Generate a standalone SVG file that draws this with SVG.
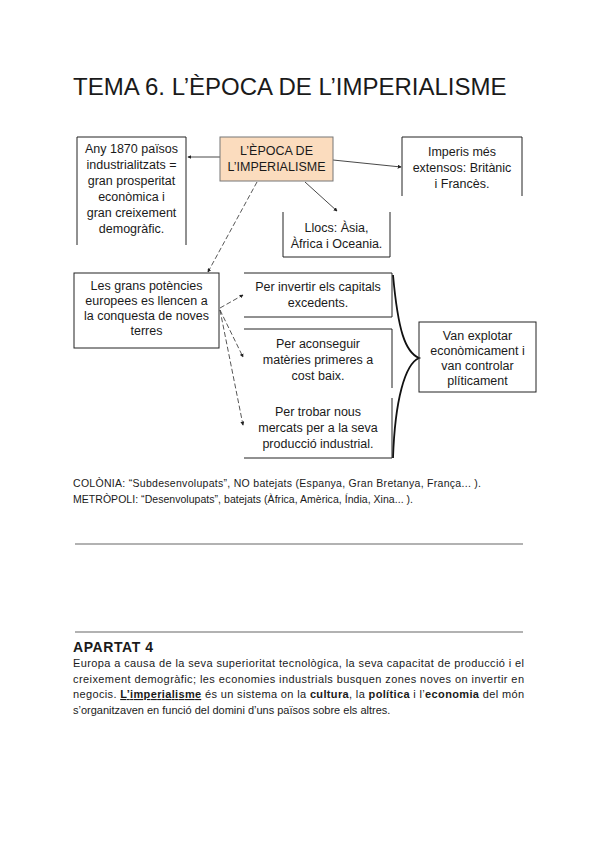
<svg xmlns="http://www.w3.org/2000/svg" width="600" height="848" viewBox="0 0 600 848">
<style>
text{font-family:"Liberation Sans",Arial,sans-serif;fill:#1a1a1a}
.t{font-size:12.5px;text-anchor:middle}
.box{fill:none;stroke:#222;stroke-width:1}
.ln{fill:none;stroke:#333;stroke-width:0.9}
.ds{fill:none;stroke:#444;stroke-width:0.9;stroke-dasharray:5 2.5}
.hr{stroke:#999;stroke-width:1.5}
.p{font-size:11px}
.b{font-weight:bold}
</style>
<defs>
<marker id="ah" viewBox="0 0 6 6" refX="5" refY="3" markerWidth="4" markerHeight="4" orient="auto" markerUnits="userSpaceOnUse">
<path d="M0,0 L6,3 L0,6 z" fill="#222"/>
</marker>
</defs>
<rect width="600" height="848" fill="#fff"/>
<text x="73" y="95" style="font-size:24px">TEMA 6. L’ÈPOCA DE L’IMPERIALISME</text>

<g id="connectors">
<line class="ln" x1="220" y1="157" x2="188" y2="157" marker-end="url(#ah)"/>
<line class="ln" x1="333" y1="160" x2="401" y2="167" marker-end="url(#ah)"/>
<line class="ln" x1="305" y1="182" x2="337" y2="211" marker-end="url(#ah)"/>
<line class="ds" x1="257" y1="182" x2="208" y2="272" marker-end="url(#ah)"/>
<line class="ds" x1="220" y1="308" x2="243" y2="295" marker-end="url(#ah)"/>
<line class="ds" x1="220" y1="310" x2="243" y2="357" marker-end="url(#ah)"/>
<line class="ds" x1="220" y1="310" x2="243" y2="425" marker-end="url(#ah)"/>
<path d="M393,275 C398,330 405,352 419,358 C405,364 395,400 393,458" fill="none" stroke="#111" stroke-width="1.8"/>
</g>

<g id="any1870">
<path class="box" d="M77,245 V137 H186 V245"/>
<text class="t" x="131.5" y="153">Any 1870 països</text>
<text class="t" x="131.5" y="169">industrialitzats =</text>
<text class="t" x="131.5" y="185">gran prosperitat</text>
<text class="t" x="131.5" y="201">econòmica i</text>
<text class="t" x="131.5" y="217">gran creixement</text>
<text class="t" x="131.5" y="233">demogràfic.</text>
</g>

<g id="epoca">
<rect x="220" y="137" width="113" height="44" fill="#FBDCBE" stroke="#777" stroke-width="1"/>
<text class="t" x="276.5" y="155">L’ÈPOCA DE</text>
<text class="t" x="276.5" y="171">L’IMPERIALISME</text>
</g>

<g id="imperis">
<path class="box" d="M402,196 V137 H522 V196"/>
<text class="t" x="462" y="156">Imperis més</text>
<text class="t" x="462" y="172">extensos: Britànic</text>
<text class="t" x="462" y="188">i Francès.</text>
</g>

<g id="llocs">
<path class="box" d="M283,212 V257 H390 V212"/>
<text class="t" x="336.5" y="232">Llocs: Àsia,</text>
<text class="t" x="336.5" y="248">Àfrica i Oceania.</text>
</g>

<g id="potencies">
<rect class="box" x="74" y="273" width="145" height="75"/>
<text class="t" x="146.5" y="290">Les grans potències</text>
<text class="t" x="146.5" y="305">europees es llencen a</text>
<text class="t" x="146.5" y="320">la conquesta de noves</text>
<text class="t" x="146.5" y="335">terres</text>
</g>

<g id="invertir">
<path class="box" d="M244,273 H392 V317 H244"/>
<text class="t" x="318" y="291">Per invertir els capitals</text>
<text class="t" x="318" y="307">excedents.</text>
</g>

<g id="aconseguir">
<path class="box" d="M244,329 H392 V388 M392,398 V458 H244"/>
<text class="t" x="318" y="348">Per aconseguir</text>
<text class="t" x="318" y="364">matèries primeres a</text>
<text class="t" x="318" y="380">cost baix.</text>
</g>

<g id="trobar">
<text class="t" x="318" y="416">Per trobar nous</text>
<text class="t" x="318" y="432">mercats per a la seva</text>
<text class="t" x="318" y="448">producció industrial.</text>
</g>

<g id="explotar">
<rect class="box" x="419" y="322" width="117" height="70"/>
<text class="t" x="477.5" y="340">Van explotar</text>
<text class="t" x="477.5" y="355">econòmicament i</text>
<text class="t" x="477.5" y="370">van controlar</text>
<text class="t" x="477.5" y="385">plíticament</text>
</g>

<text x="73" y="487" style="font-size:10.5px" textLength="408" lengthAdjust="spacing">COLÒNIA: “Subdesenvolupats”, NO batejats (Espanya, Gran Bretanya, França... ).</text>
<text x="73" y="503" style="font-size:10.5px" textLength="340" lengthAdjust="spacing">METRÒPOLI: “Desenvolupats”, batejats (Àfrica, Amèrica, Índia, Xina... ).</text>

<line class="hr" x1="75" y1="544" x2="523" y2="544"/>
<line class="hr" x1="75" y1="632" x2="523" y2="632"/>

<text x="73" y="652" class="b" style="font-size:14px" textLength="80" lengthAdjust="spacing">APARTAT 4</text>
<text class="p" x="73" y="667" textLength="451" lengthAdjust="spacing">Europa a causa de la seva superioritat tecnològica, la seva capacitat de producció i el</text>
<text class="p" x="73" y="683" textLength="451" lengthAdjust="spacing">creixement demogràfic; les economies industrials busquen zones noves on invertir en</text>
<text class="p" x="73" y="698" textLength="451" lengthAdjust="spacing">negocis. <tspan class="b" text-decoration="underline">L’imperialisme</tspan> és un sistema on la <tspan class="b">cultura</tspan>, la <tspan class="b">política</tspan> i l’<tspan class="b">economia</tspan> del món</text>
<text class="p" x="73" y="714">s’organitzaven en funció del domini d’uns països sobre els altres.</text>
</svg>
